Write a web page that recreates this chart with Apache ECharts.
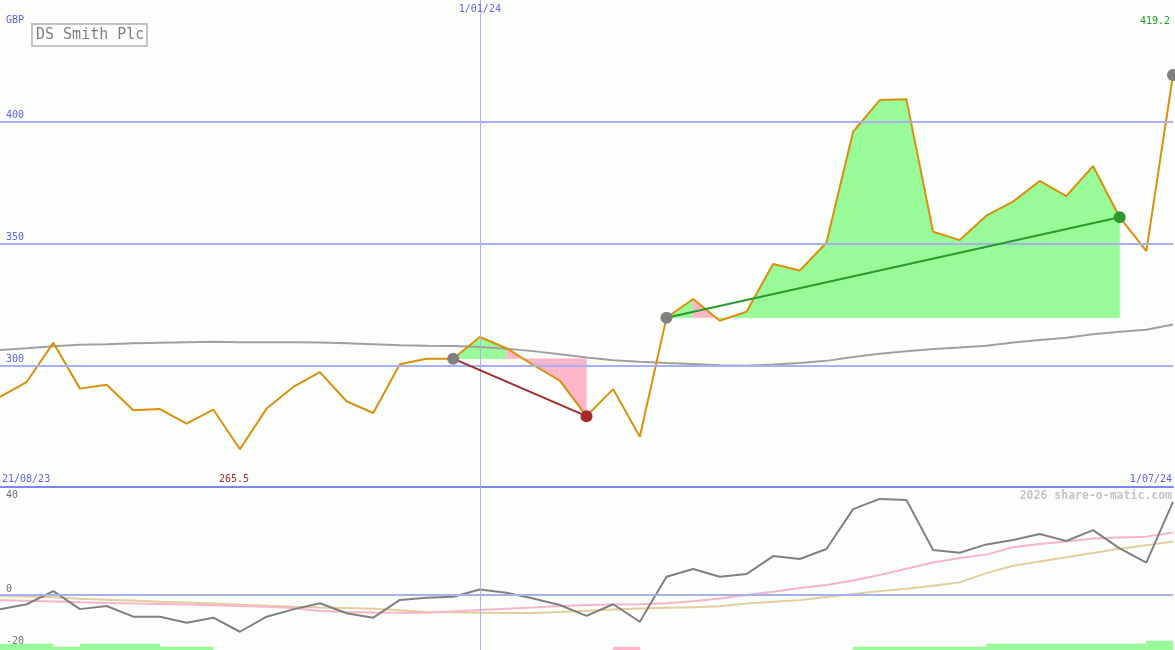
<!DOCTYPE html>
<html><head><meta charset="utf-8">
<style>html,body{margin:0;padding:0;background:#fcfefc}#c{width:1175px;height:650px}</style>
<script src="https://cdn.jsdelivr.net/npm/echarts@6/dist/echarts.min.js"></script>
</head><body><div id="c"></div>
<script>
const dates = ["28/08/23","4/09/23","11/09/23","18/09/23","25/09/23","2/10/23","9/10/23","16/10/23","23/10/23","30/10/23","6/11/23","13/11/23","20/11/23","27/11/23","4/12/23","11/12/23","18/12/23","25/12/23","1/01/24","8/01/24","15/01/24","22/01/24","29/01/24","5/02/24","12/02/24","19/02/24","26/02/24","4/03/24","11/03/24","18/03/24","25/03/24","1/04/24","8/04/24","15/04/24","22/04/24","29/04/24","6/05/24","13/05/24","20/05/24","27/05/24","3/06/24","10/06/24","17/06/24","24/06/24","1/07/24"];
const price = [287.0,293.1,309.2,290.4,292.0,281.5,282.0,276.0,281.8,265.5,282.2,291.1,297.2,285.2,280.4,300.4,302.7,302.7,311.6,307.0,300.1,293.7,279.1,290.2,270.6,319.5,327.2,318.3,322.0,341.6,338.9,350.3,395.9,408.9,409.2,354.8,351.4,361.4,367.2,375.7,369.5,381.8,360.8,346.9,419.2];
const movingAvg = [306.3,307.0,307.8,308.4,308.6,309.0,309.2,309.4,309.6,309.4,309.4,309.4,309.3,309.0,308.6,308.2,308.0,307.9,307.5,306.8,305.8,304.5,303.2,302.1,301.4,300.9,300.5,300.0,299.8,300.3,300.9,301.8,303.4,304.7,305.7,306.7,307.3,308.0,309.3,310.4,311.3,312.7,313.8,314.6,316.7];
const oscillator = [-5.9,-3.8,1.6,-5.8,-4.5,-8.9,-8.9,-11.4,-9.3,-15.1,-8.9,-5.9,-3.4,-7.5,-9.3,-2.0,-1.1,-0.7,2.3,0.9,-1.4,-4.1,-8.6,-3.8,-11.0,7.5,10.7,7.5,8.6,16.0,14.8,18.9,35.3,39.5,39.1,18.5,17.4,20.8,22.6,25.1,22.2,26.7,19.2,13.3,38.3];
const oscFast = [-2.1,-2.4,-2.7,-3.0,-3.3,-3.5,-3.7,-3.9,-4.2,-4.5,-4.8,-5.3,-6.6,-7.0,-7.2,-7.3,-7.3,-6.8,-6.2,-5.6,-5.1,-4.5,-4.1,-3.9,-3.8,-3.4,-2.6,-1.4,0.0,1.3,2.9,4.1,6.0,8.2,10.8,13.4,15.2,16.6,19.6,21.0,22.0,23.2,23.6,24.0,25.7];
const oscSlow = [-0.4,-0.6,-0.9,-1.5,-1.9,-2.3,-2.8,-3.1,-3.5,-4.0,-4.4,-4.8,-5.1,-5.3,-5.6,-6.3,-7.0,-7.1,-7.3,-7.4,-7.4,-7.0,-6.5,-6.0,-5.5,-5.2,-5.0,-4.6,-3.5,-2.8,-2.1,-0.8,0.4,1.6,2.6,3.8,5.2,9.0,12.0,13.8,15.5,17.3,19.0,20.5,22.0];
const signalBars = [2,2,1,2,2,2,1,1,0,0,0,0,0,0,0,0,0,0,0,0,0,0,0,-1,0,0,0,0,0,0,0,0,1,1,1,1,1,2,2,2,2,2,2,3];
const tradeStart = [17, 25];
const tradeEnd = [22, 42];
const markerIdx = [17, 22, 25, 42, 44];
const priceTicks = [400, 350, 300];
const oscTicks = [40, 0, -20];
const yearMarkIdx = 18;
const edgeDates = ["21/08/23", "1/07/24"];
const titleText = "DS Smith Plc";
const currency = "GBP";
const watermark = "2026 share-o-matic.com";

const FONT = "'DejaVu Sans Mono', monospace";
const BLUE = '#5a60f0', GREEN = '#2a9a2a', RED = '#a52a2a', GREY = '#808080';
const FILL_G = '#98fb98', FILL_P = '#ffb6c8';

const chart = echarts.init(document.getElementById('c'), null, {renderer: 'canvas'});

const fillData = [];
tradeStart.forEach((s, k) => {
  for (let i = s; i < tradeEnd[k]; i++) fillData.push([i, price[i], price[i + 1], price[s]]);
});
const barData = signalBars.map((v, i) => [i, Math.abs(v), v]);
const nulls = dates.map(() => null);

const trendSeries = tradeStart.map((s, k) => {
  const e = tradeEnd[k];
  return {type: 'line', xAxisIndex: 0, yAxisIndex: 0, z: 5, silent: true, symbol: 'none',
    data: [[s, price[s]], [e, price[e]]],
    lineStyle: {color: price[e] >= price[s] ? GREEN : RED, width: 2}};
});

const markerData = markerIdx.map(i => {
  const k = tradeEnd.indexOf(i);
  let c = GREY;
  if (k >= 0) c = price[i] >= price[tradeStart[k]] ? GREEN : RED;
  return {value: [i, price[i]], itemStyle: {color: c, opacity: 1}};
});

const minIdx = price.indexOf(Math.min(...price));

const option = {
  animation: false,
  backgroundColor: '#fcfefc',
  title: {text: titleText, left: 32, top: 24, padding: [3, 3, 2, 4], borderWidth: 2, borderColor: '#c4c4c4',
    textStyle: {fontFamily: FONT, fontSize: 15, fontWeight: 'normal', color: '#7f7f7f', lineHeight: 17}},
  grid: [
    {left: 0, right: 2, top: 0, height: 487},
    {left: 0, right: 2, top: 487, height: 163}
  ],
  xAxis: [
    {gridIndex: 0, type: 'category', data: dates, boundaryGap: false,
      axisLine: {show: true, lineStyle: {color: '#7a88ee', width: 2}}, axisTick: {show: false}, axisLabel: {show: false}, splitLine: {show: false}},
    {gridIndex: 1, type: 'category', data: dates, boundaryGap: false,
      axisLine: {show: false}, axisTick: {show: false}, axisLabel: {show: false}, splitLine: {show: false}}
  ],
  yAxis: [
    {gridIndex: 0, type: 'value', min: 250, max: 450, splitLine: {show: false}, axisLine: {show: false}, axisTick: {show: false},
      axisLabel: {inside: true, customValues: priceTicks, margin: 6, verticalAlign: 'bottom', lineHeight: 12, color: BLUE, fontFamily: FONT, fontSize: 10}},
    {gridIndex: 1, type: 'value', min: -22.6, max: 44.4, splitLine: {show: false}, axisLine: {show: false}, axisTick: {show: false},
      axisLabel: {inside: true, customValues: oscTicks, margin: 6, color: '#707070', fontFamily: FONT, fontSize: 10,
        formatter: v => v === 0 ? '{a|0}' : '{b|' + v + '}',
        rich: {a: {padding: [0, 0, 12, 0], fontFamily: FONT, fontSize: 10, color: '#707070'},
               b: {padding: [0, 0, 4, 0], fontFamily: FONT, fontSize: 10, color: '#707070'}}}},
    {gridIndex: 1, type: 'value', min: 0, max: 54.33, show: false}
  ],
  series: [
    {type: 'line', xAxisIndex: 0, yAxisIndex: 0, data: nulls, z: 1, silent: true, symbol: 'none',
      markLine: {silent: true, symbol: 'none', label: {show: false},
        data: priceTicks.map(v => ({yAxis: v, lineStyle: {color: '#a6b0f2', width: 2, type: 'solid'}}))
          .concat([{xAxis: yearMarkIdx, lineStyle: {color: '#aab4ea', width: 1, type: 'solid'}}])}},
    {type: 'line', xAxisIndex: 1, yAxisIndex: 1, data: nulls, z: 1, silent: true, symbol: 'none',
      markLine: {silent: true, symbol: 'none', label: {show: false},
        data: [{yAxis: 0, lineStyle: {color: '#a6b0f2', width: 2, type: 'solid'}},
               {xAxis: yearMarkIdx, lineStyle: {color: '#aab4ea', width: 1, type: 'solid'}}]}},
    {type: 'custom', xAxisIndex: 0, yAxisIndex: 0, z: 2, silent: true, data: fillData, encode: {x: 0, y: [1, 2, 3]},
      renderItem: (params, api) => {
        const i = api.value(0), a = api.value(1), b = api.value(2), base = api.value(3);
        const pts = [api.coord([i, base]), api.coord([i, a]), api.coord([i + 1, b]), api.coord([i + 1, base])];
        const col = b >= base ? FILL_G : FILL_P;
        return {type: 'polygon', shape: {points: pts}, style: {fill: col, stroke: col, lineWidth: 0.5}};
      }},
    {type: 'line', xAxisIndex: 0, yAxisIndex: 0, z: 3, silent: true, data: movingAvg, symbol: 'none',
      lineStyle: {color: '#a0a0a0', width: 2}},
    {type: 'line', xAxisIndex: 0, yAxisIndex: 0, z: 4, silent: true, data: price, symbol: 'none',
      lineStyle: {color: '#d9900c', width: 2}},
    ...trendSeries,
    {type: 'scatter', xAxisIndex: 0, yAxisIndex: 0, z: 6, silent: true, symbolSize: 12, data: markerData, itemStyle: {opacity: 1}},
    {type: 'custom', xAxisIndex: 1, yAxisIndex: 2, z: 2, silent: true, data: barData, encode: {x: 0, y: 1},
      renderItem: (params, api) => {
        const i = api.value(0), h = api.value(1), s = api.value(2);
        if (!h) return null;
        const p0 = api.coord([i, 0]), p1 = api.coord([i + 1, h]);
        const col = s > 0 ? FILL_G : FILL_P;
        return {type: 'rect', shape: {x: p0[0], y: p1[1], width: p1[0] - p0[0], height: p0[1] - p1[1]},
          style: {fill: col, stroke: col, lineWidth: 0.5}};
      }},
    {type: 'line', xAxisIndex: 1, yAxisIndex: 1, z: 3, silent: true, data: oscSlow, symbol: 'none',
      lineStyle: {color: '#e4cc9c', width: 2}},
    {type: 'line', xAxisIndex: 1, yAxisIndex: 1, z: 3, silent: true, data: oscFast, symbol: 'none',
      lineStyle: {color: '#f8b4c8', width: 2}},
    {type: 'line', xAxisIndex: 1, yAxisIndex: 1, z: 4, silent: true, data: oscillator, symbol: 'none',
      lineStyle: {color: '#808080', width: 2}}
  ]
};
chart.setOption(option);

const yearX = chart.convertToPixel({xAxisIndex: 0}, yearMarkIdx);
const minX = chart.convertToPixel({xAxisIndex: 0}, minIdx);
const txt = (o) => ({type: 'text', z: 10, silent: true, style: Object.assign({font: '10px ' + FONT, fill: BLUE, textVerticalAlign: 'middle'}, o.style), x: o.x, y: o.y});
chart.setOption({graphic: [
  txt({x: 6, y: 20, style: {text: currency, textAlign: 'left'}}),
  txt({x: yearX, y: 9, style: {text: dates[yearMarkIdx], textAlign: 'center'}}),
  txt({x: 1170, y: 21, style: {text: price[price.length - 1].toFixed(1), textAlign: 'right', fill: '#1e9a1e'}}),
  txt({x: 2, y: 479, style: {text: edgeDates[0], textAlign: 'left'}}),
  txt({x: minX - 6, y: 479, style: {text: Math.min(...price).toFixed(1), textAlign: 'center', fill: '#b02828'}}),
  txt({x: 1172, y: 479, style: {text: edgeDates[1], textAlign: 'right'}}),
  txt({x: 1172, y: 496, style: {text: watermark, textAlign: 'right', fill: '#c4c4c4', font: 'bold 11.5px ' + FONT}})
]});
</script>
</body></html>
